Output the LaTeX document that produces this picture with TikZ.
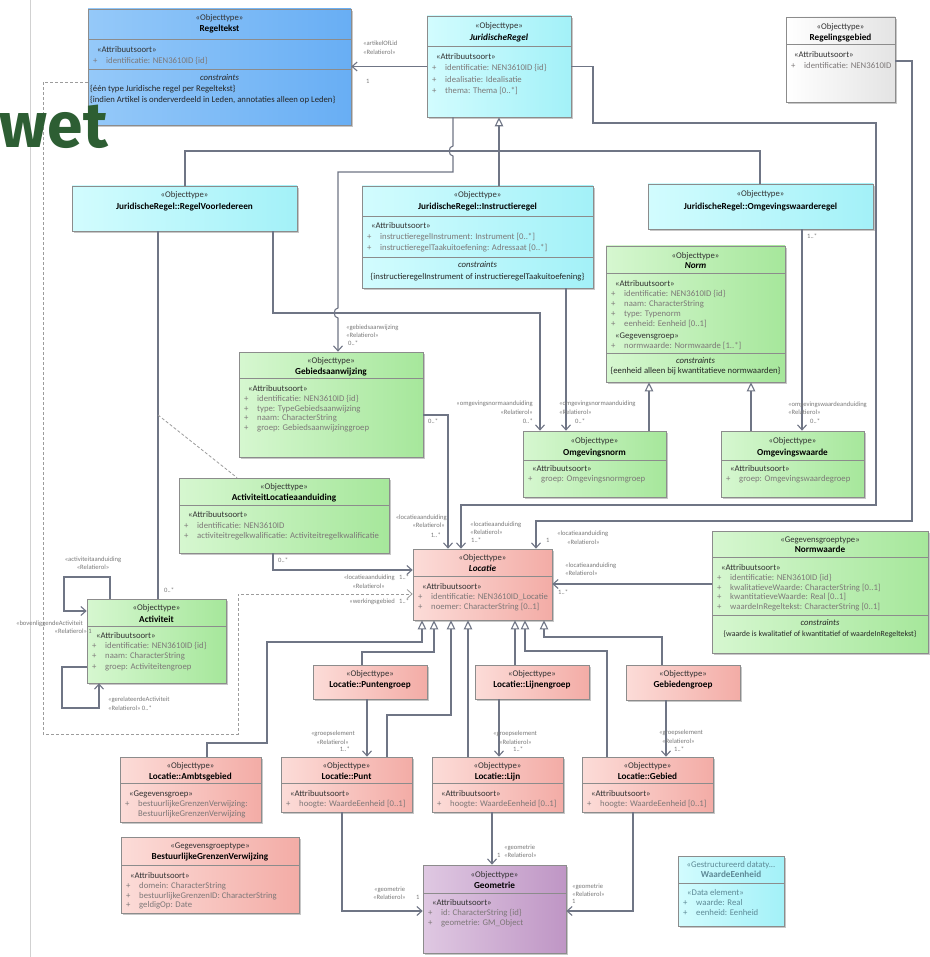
\documentclass[tikz,border=0pt]{standalone}
\usepackage{fontspec}
\setmainfont{Carlito}
\newfontfamily\wetfont{Fira Sans}
\usetikzlibrary{arrows.meta,fit,shadows}
\definecolor{conn}{HTML}{6F7585}
\definecolor{boxborder}{HTML}{8C8C8C}
\definecolor{dashc}{HTML}{9C9C9C}
\definecolor{labc}{HTML}{7A7A7A}
\definecolor{attrcol}{HTML}{7D7878}
\definecolor{stcol}{HTML}{333333}
\definecolor{wecol}{HTML}{5E8A96}
\definecolor{blueL}{HTML}{95C9F9}\definecolor{blueR}{HTML}{68AEF4}
\definecolor{cyanL}{HTML}{D2FCFE}\definecolor{cyanR}{HTML}{A3F1F8}
\definecolor{greenL}{HTML}{D6F7D0}\definecolor{greenR}{HTML}{A6E79B}
\definecolor{pinkL}{HTML}{FCDCD8}\definecolor{pinkR}{HTML}{F3ACA6}
\definecolor{purpL}{HTML}{DFC8E2}\definecolor{purpR}{HTML}{BF96C5}
\definecolor{greyL}{HTML}{FFFFFF}\definecolor{greyR}{HTML}{E4E4E4}
\definecolor{wetgreen}{HTML}{2D5E33}
\newcommand\fntn{\fontsize{8.7}{10}\selectfont}
\newcommand\fntb{\fontsize{9.2}{10}\selectfont\bfseries}
\newcommand\fnts{\fontsize{6.6}{7.5}\selectfont}
\newcounter{lnc}
\newcommand\tline[4][]{\stepcounter{lnc}\node[txt,#1] (t\arabic{lnc}) at (#2,#3) {#4};}
\newcommand\umlbox[6]{\node[umlb,#6,fit={(#2,#3) (#4,#5)}] (#1) {};}
\newcommand\udiv[3]{\draw[divl] (#1,#3) -- (#2,#3);}
\newcommand\uhdr[5]{\tline[anchor=center,sthdr]{#1}{#2}{#3}\tline[anchor=center,namet]{#1}{#4}{#5}}
\newcommand\ustt[3]{\tline[sttxt]{#1}{#2}{#3}}
\newcommand\uattr[3]{\tline[attrtxt]{#1+5}{#2}{+}\tline[attrtxt]{#1+18}{#2}{#3}}
\newcommand\ucons[2]{\tline[anchor=center,constrtxt,font=\fntn\itshape]{#1}{#2}{constraints}}
\newcommand\rlab[4][west]{\tline[labtxt,anchor=#1]{#2}{#3}{#4}}
\tikzset{
 txt/.style={anchor=west, inner sep=0pt, font=\fntn, text height=6.1pt, text depth=1.9pt},
 sthdr/.style={text=stcol},
 namet/.style={font=\fntb, text=black},
 sttxt/.style={text=stcol},
 attrtxt/.style={text=attrcol},
 constrtxt/.style={text=black!85},
 labtxt/.style={font=\fnts, text=labc, text height=4.6pt, text depth=1.4pt},
 wetxt/.style={text=wecol},
 umlb/.style={draw=boxborder, line width=0.7pt, inner sep=0pt,
   general shadow={fill=black!22, shadow xshift=1.6pt, shadow yshift=-1.6pt}},
 blueb/.style={left color=blueL, right color=blueR},
 cyanb/.style={left color=cyanL, right color=cyanR},
 greenb/.style={left color=greenL, right color=greenR},
 pinkb/.style={left color=pinkL, right color=pinkR},
 purpb/.style={left color=purpL, right color=purpR},
 greyb/.style={left color=greyL, right color=greyR},
 divl/.style={draw=boxborder, line width=0.6pt},
 plain/.style={draw=conn, line width=1.1pt},
 assoc/.style={plain, -{Straight Barb[length=5pt,width=9pt]}},
 gen/.style={plain, -{Triangle[open,fill=white,length=9pt,width=8.5pt]}},
 dashlink/.style={draw=dashc, line width=0.8pt, dash pattern=on 3pt off 2pt},
}
\begin{document}
\begin{tikzpicture}[x=1pt,y=-1pt]
\useasboundingbox (0,0) rectangle (929,957);
\fill[white] (0,0) rectangle (929,957);
\draw[draw=black!18, line width=1pt] (30,0) -- (30,957);

% ================= boxes =================
% Regeltekst
\umlbox{regeltekst}{88}{9}{351}{125}{blueb}
\uhdr{219.5}{18}{«Objecttype»}{29}{Regeltekst}
\udiv{88}{351}{39}
\ustt{97}{50}{«Attribuutsoort»}
\uattr{88}{61}{identificatie: NEN3610ID \{id\}}
\udiv{88}{351}{69}
\ucons{219.5}{78}
\tline[constrtxt]{90}{89}{\{één type Juridische regel per Regeltekst\}}
\tline[constrtxt]{90}{100}{\{indien Artikel is onderverdeeld in Leden, annotaties alleen op Leden\}}

% JuridischeRegel
\umlbox{jr}{427}{16}{571}{117}{cyanb}
\uhdr{499}{26}{«Objecttype»}{38}{\itshape JuridischeRegel}
\udiv{427}{571}{46}
\ustt{436}{57}{«Attribuutsoort»}
\uattr{427}{68}{identificatie: NEN3610ID \{id\}}
\uattr{427}{80}{idealisatie: Idealisatie}
\uattr{427}{91}{thema: Thema [0..*]}

% Regelingsgebied
\umlbox{rg}{786}{17}{895}{102}{greyb}
\uhdr{840.5}{27}{«Objecttype»}{38}{Regelingsgebied}
\udiv{786}{895}{44}
\ustt{794}{55}{«Attribuutsoort»}
\uattr{786}{66}{identificatie: NEN3610ID}

% RegelVoorIedereen
\umlbox{rvi}{72}{186}{297}{231}{cyanb}
\uhdr{184.5}{195}{«Objecttype»}{207}{JuridischeRegel::RegelVoorIedereen}

% Instructieregel
\umlbox{instr}{362}{186}{593}{288}{cyanb}
\uhdr{477.5}{195}{«Objecttype»}{207}{JuridischeRegel::Instructieregel}
\udiv{362}{593}{216}
\ustt{371}{226}{«Attribuutsoort»}
\uattr{362}{237}{instructieregelInstrument: Instrument [0..*]}
\uattr{362}{248}{instructieregelTaakuitoefening: Adressaat [0..*]}
\udiv{362}{593}{257}
\ucons{477.5}{265}
\tline[anchor=center,constrtxt]{477.5}{277}{\{instructieregelInstrument of instructieregelTaakuitoefening\}}

% Omgevingswaarderegel
\umlbox{owr}{648}{184}{873}{229}{cyanb}
\uhdr{760.5}{194}{«Objecttype»}{207}{JuridischeRegel::Omgevingswaarderegel}

% Norm
\umlbox{norm}{606}{246}{785}{382}{greenb}
\uhdr{695.5}{256}{«Objecttype»}{266}{\itshape Norm}
\udiv{606}{785}{273}
\ustt{615}{284}{«Attribuutsoort»}
\uattr{606}{294}{identificatie: NEN3610ID \{id\}}
\uattr{606}{304}{naam: CharacterString}
\uattr{606}{314}{type: Typenorm}
\uattr{606}{324}{eenheid: Eenheid [0..1]}
\ustt{615}{336}{«Gegevensgroep»}
\uattr{606}{346}{normwaarde: Normwaarde [1..*]}
\udiv{606}{785}{353}
\ucons{695.5}{361}
\tline[anchor=center,constrtxt]{695.5}{371}{\{eenheid alleen bij kwantitatieve normwaarden\}}

% Gebiedsaanwijzing
\umlbox{gba}{239}{352}{423}{457}{greenb}
\uhdr{331}{361}{«Objecttype»}{372}{Gebiedsaanwijzing}
\udiv{239}{423}{378}
\ustt{248}{389}{«Attribuutsoort»}
\uattr{239}{399}{identificatie: NEN3610ID \{id\}}
\uattr{239}{409}{type: TypeGebiedsaanwijzing}
\uattr{239}{418}{naam: CharacterString}
\uattr{239}{428}{groep: Gebiedsaanwijzinggroep}

% Omgevingsnorm
\umlbox{ogn}{523}{431}{666}{497}{greenb}
\uhdr{594.5}{441}{«Objecttype»}{453}{Omgevingsnorm}
\udiv{523}{666}{460}
\ustt{532}{469}{«Attribuutsoort»}
\uattr{523}{479}{groep: Omgevingsnormgroep}

% Omgevingswaarde
\umlbox{ogw}{721}{431}{864}{497}{greenb}
\uhdr{792.5}{441}{«Objecttype»}{453}{Omgevingswaarde}
\udiv{721}{864}{460}
\ustt{730}{469}{«Attribuutsoort»}
\uattr{721}{479}{groep: Omgevingswaardegroep}

% ActiviteitLocatieaanduiding
\umlbox{ala}{179}{478}{389}{553}{greenb}
\uhdr{284}{487}{«Objecttype»}{498}{ActiviteitLocatieaanduiding}
\udiv{179}{389}{505}
\ustt{188}{515}{«Attribuutsoort»}
\uattr{179}{526}{identificatie: NEN3610ID}
\uattr{179}{536}{activiteitregelkwalificatie: Activiteitregelkwalificatie}

% Locatie
\umlbox{loc}{413}{549}{552}{620}{pinkb}
\uhdr{482.5}{558}{«Objecttype»}{569}{\itshape Locatie}
\udiv{413}{552}{576}
\ustt{422}{587}{«Attribuutsoort»}
\uattr{413}{597}{identificatie: NEN3610ID\_Locatie}
\uattr{413}{607}{noemer: CharacterString [0..1]}

% Normwaarde
\umlbox{nw}{712}{531}{928}{653}{greenb}
\uhdr{820}{540}{«Gegevensgroeptype»}{550}{Normwaarde}
\udiv{712}{928}{557}
\ustt{721}{568}{«Attribuutsoort»}
\uattr{712}{578}{identificatie: NEN3610ID \{id\}}
\uattr{712}{588}{kwalitatieveWaarde: CharacterString [0..1]}
\uattr{712}{597}{kwantitatieveWaarde: Real [0..1]}
\uattr{712}{607}{waardeInRegeltekst: CharacterString [0..1]}
\udiv{712}{928}{615}
\ucons{820}{623}
\tline[anchor=center,constrtxt,font=\fontsize{7.9}{9}\selectfont]{820}{634}{\{waarde is kwalitatief of kwantitatief of waardeInRegeltekst\}}

% Activiteit
\umlbox{act}{87}{599}{226}{683}{greenb}
\uhdr{156.5}{608}{«Objecttype»}{620}{Activiteit}
\udiv{87}{226}{626}
\ustt{96}{636}{«Attribuutsoort»}
\uattr{87}{646}{identificatie: NEN3610ID \{id\}}
\uattr{87}{656}{naam: CharacterString}
\uattr{87}{667}{groep: Activiteitengroep}

% groups
\umlbox{pg}{313}{665}{427}{699}{pinkb}
\uhdr{370}{674}{«Objecttype»}{685}{Locatie::Puntengroep}
\umlbox{lg}{475}{665}{589}{699}{pinkb}
\uhdr{532}{674}{«Objecttype»}{685}{Locatie::Lijnengroep}
\umlbox{gg}{626}{665}{740}{700}{pinkb}
\uhdr{683}{674}{«Objecttype»}{685}{Gebiedengroep}

% Ambtsgebied
\umlbox{amb}{120}{757}{261}{822}{pinkb}
\uhdr{190.5}{766}{«Objecttype»}{777}{Locatie::Ambtsgebied}
\udiv{120}{261}{783}
\ustt{129}{794}{«Gegevensgroep»}
\uattr{120}{804}{bestuurlijkeGrenzenVerwijzing:}
\tline[attrtxt]{138}{814}{BestuurlijkeGrenzenVerwijzing}

% Punt, Lijn, Gebied
\umlbox{punt}{281}{757}{412}{812}{pinkb}
\uhdr{346.5}{766}{«Objecttype»}{777}{Locatie::Punt}
\udiv{281}{412}{783}
\ustt{290}{794}{«Attribuutsoort»}
\uattr{281}{804}{hoogte: WaardeEenheid [0..1]}
\umlbox{lijn}{432}{757}{563}{812}{pinkb}
\uhdr{497.5}{766}{«Objecttype»}{777}{Locatie::Lijn}
\udiv{432}{563}{783}
\ustt{441}{794}{«Attribuutsoort»}
\uattr{432}{804}{hoogte: WaardeEenheid [0..1]}
\umlbox{geb}{582}{757}{713}{812}{pinkb}
\uhdr{647.5}{766}{«Objecttype»}{777}{Locatie::Gebied}
\udiv{582}{713}{783}
\ustt{591}{794}{«Attribuutsoort»}
\uattr{582}{804}{hoogte: WaardeEenheid [0..1]}

% BestuurlijkeGrenzenVerwijzing
\umlbox{bgv}{121}{837}{299}{913}{pinkb}
\uhdr{210}{846}{«Gegevensgroeptype»}{857}{BestuurlijkeGrenzenVerwijzing}
\udiv{121}{299}{865}
\ustt{130}{876}{«Attribuutsoort»}
\uattr{121}{886}{domein: CharacterString}
\uattr{121}{896}{bestuurlijkeGrenzenID: CharacterString}
\uattr{121}{905}{geldigOp: Date}

% Geometrie
\umlbox{geo}{423}{865}{566}{953}{purpb}
\uhdr{494.5}{875}{«Objecttype»}{886}{Geometrie}
\udiv{423}{566}{893}
\ustt{432}{903}{«Attribuutsoort»}
\uattr{423}{913}{id: CharacterString \{id\}}
\uattr{423}{923}{geometrie: GM\_Object}

% WaardeEenheid
\umlbox{we}{678}{856}{784}{926}{cyanb}
\tline[anchor=center,wetxt]{731}{865}{«Gestructureerd dataty...}
\tline[anchor=center,wetxt,font=\fntb]{731}{875}{WaardeEenheid}
\udiv{678}{784}{883}
\tline[wetxt]{687}{893}{«Data element»}
\tline[wetxt]{683}{903}{+}\tline[wetxt]{696}{903}{waarde: Real}
\tline[wetxt]{683}{913}{+}\tline[wetxt]{696}{913}{eenheid: Eenheid}

% ================= connectors =================
% generalisations of JuridischeRegel
\draw[plain] (rvi.north -| 185,0) -- (185,151) -- (760,151) -- (owr.north -| 760,0);
\draw[gen] (instr.north -| 499,0) -- (jr.south -| 499,0);
% generalisations of Norm
\draw[gen] (ogn.north -| 649,0) -- (norm.south -| 649,0);
\draw[gen] (ogw.north -| 751,0) -- (norm.south -| 751,0);
% generalisations of Locatie
\draw[gen] (amb.north -| 207,0) -- (207,743) -- (267,743) -- (267,642) -- (422,642) -- (loc.south -| 422,0);
\draw[gen] (pg.north -| 362,0) -- (362,652) -- (434,652) -- (loc.south -| 434,0);
\draw[gen] (punt.north -| 387,0) -- (387,715) -- (451,715) -- (loc.south -| 451,0);
\draw[gen] (lijn.north -| 468,0) -- (loc.south -| 468,0);
\draw[gen] (lg.north -| 515,0) -- (loc.south -| 515,0);
\draw[gen] (geb.north -| 607,0) -- (607,651) -- (525,651) -- (loc.south -| 525,0);
\draw[gen] (gg.north -| 662,0) -- (662,637) -- (544,637) -- (loc.south -| 544,0);

% associations
\draw[assoc] (jr.west) -- (regeltekst.east |- jr.west);
\draw[assoc] (jr.east) -- (593,66.5) -- (593,123) -- (876,123) -- (876,505) -- (461,505) -- (loc.north -| 461,0);
\draw[assoc] (rg.east |- 0,61) -- (912,61) -- (912,521) -- (536,521) -- (loc.north -| 536,0);
\draw[assoc] (jr.south -| 453,0) -- (453,146) .. controls (448,146) and (448,156) .. (453,156) -- (453,172) -- (338,172) -- (338,308) .. controls (333,308) and (333,318) .. (338,318) -- (gba.north -| 338,0);
\draw[assoc] (rvi.south -| 273,0) -- (273,313) -- (540,313) -- (ogn.north -| 540,0);
\draw[assoc] (instr.south -| 566,0) -- (ogn.north -| 566,0);
\draw[assoc] (owr.south -| 802,0) -- (ogw.north -| 802,0);
\draw[plain] (rvi.south -| 158,0) -- (act.north -| 158,0);
\coordinate (acpt) at (158,415);
\draw[dashlink] (acpt) -- (ala.north -| 237,0);
\draw[assoc] (gba.east |- 0,415) -- (448,415) -- (loc.north -| 448,0);
\draw[assoc] (ala.south -| 273,0) -- (273,570) -- (loc.west |- 0,570);
\draw[assoc] (nw.west |- 0,584) -- (loc.east |- 0,584);
\draw[dashlink, -{Straight Barb[length=5pt,width=9pt]}] (regeltekst.west |- 0,82) -- (43,82) -- (43,734) -- (238,734) -- (238,594) -- (loc.west |- 0,594);
\draw[assoc] (act.north -| 110,0) -- (110,577) -- (64,577) -- (64,611) -- (act.west |- 0,611);
\draw[assoc] (act.west |- 0,667) -- (62,667) -- (62,708) -- (99,708) -- (act.south -| 99,0);
\draw[assoc] (pg.south -| 367,0) -- (punt.north -| 367,0);
\draw[assoc] (lg.south -| 499,0) -- (lijn.north -| 499,0);
\draw[assoc] (gg.south -| 666,0) -- (geb.north -| 666,0);
\draw[assoc] (punt.south -| 342,0) -- (342,911) -- (geo.west |- 0,911);
\draw[assoc] (lijn.south -| 492,0) -- (geo.north -| 492,0);
\draw[assoc] (geb.south -| 633,0) -- (633,911) -- (geo.east |- 0,911);

% ================= connector labels =================
\rlab{363}{44}{«artikelOfLid}
\rlab{363}{53}{«Relatierol»}
\rlab{366}{82}{1}
\rlab{470}{525}{«locatieaanduiding}
\rlab{470}{533}{«Relatierol»}
\rlab{471}{541}{1..*}
\rlab{546}{541}{1}
\rlab{557}{534}{«locatieaanduiding}
\rlab{567}{543}{«Relatierol»}
\rlab{346}{328}{«gebiedsaanwijzing}
\rlab{346}{336}{«Relatierol»}
\rlab{348}{344}{0..*}
\rlab[east]{533}{404}{«omgevingsnormaanduiding}
\rlab[east]{533}{413}{«Relatierol»}
\rlab[east]{533}{422}{0..*}
\rlab{559}{404}{«omgevingsnormaanduiding}
\rlab{559}{413}{«Relatierol»}
\rlab{575}{422}{0..*}
\rlab{807}{237}{1..*}
\rlab{788}{405}{«omgevingswaardeanduiding}
\rlab{788}{413}{«Relatierol»}
\rlab{810}{422}{0..*}
\rlab{164}{591}{0..*}
\rlab{428}{422}{0..*}
\rlab[east]{447}{518}{«locatieaanduiding}
\rlab[east]{445}{526}{«Relatierol»}
\rlab[east]{441}{536}{1..*}
\rlab{278}{561}{0..*}
\rlab[east]{395}{578}{«locatieaanduiding}
\rlab{399}{578}{1..*}
\rlab[east]{385}{587}{«Relatierol»}
\rlab[east]{395}{602}{«werkingsgebied}
\rlab{399}{602}{1..*}
\rlab{565}{566}{«locatieaanduiding}
\rlab{565}{574}{«Relatierol»}
\rlab{558}{593}{1..*}
\rlab[center]{93}{560}{«activiteitaanduiding}
\rlab[center]{93}{568}{«Relatierol»}
\rlab[east]{83}{624}{«bovenliggendeActiviteit}
\rlab[east]{92}{632}{«Relatierol» 1}
\rlab{108}{700}{«gerelateerdeActiviteit}
\rlab{108}{709}{«Relatierol» 0..*}
\rlab[east]{355}{734}{«groepselement}
\rlab[east]{349}{743}{«Relatierol»}
\rlab[east]{350}{750}{1..*}
\rlab{493}{734}{«groepselement}
\rlab{499}{743}{«Relatierol»}
\rlab{513}{750}{1..*}
\rlab{659}{733}{«groepselement}
\rlab{662}{742}{«Relatierol»}
\rlab{674}{750}{1..*}
\rlab{374}{890}{«geometrie}
\rlab{373}{898}{«Relatierol»}
\rlab{416}{898}{1}
\rlab{497}{856}{1}
\rlab{504}{848}{«geometrie}
\rlab{504}{856}{«Relatierol»}
\rlab{572}{887}{«geometrie}
\rlab{572}{895}{«Relatierol»}
\rlab{572}{902}{1}

% logo fragment
\node[anchor=base east, inner sep=0pt, text=wetgreen, font=\wetfont\bfseries\fontsize{64}{64}\selectfont] (wet) at (108,148) {wet};
\end{tikzpicture}
\end{document}
